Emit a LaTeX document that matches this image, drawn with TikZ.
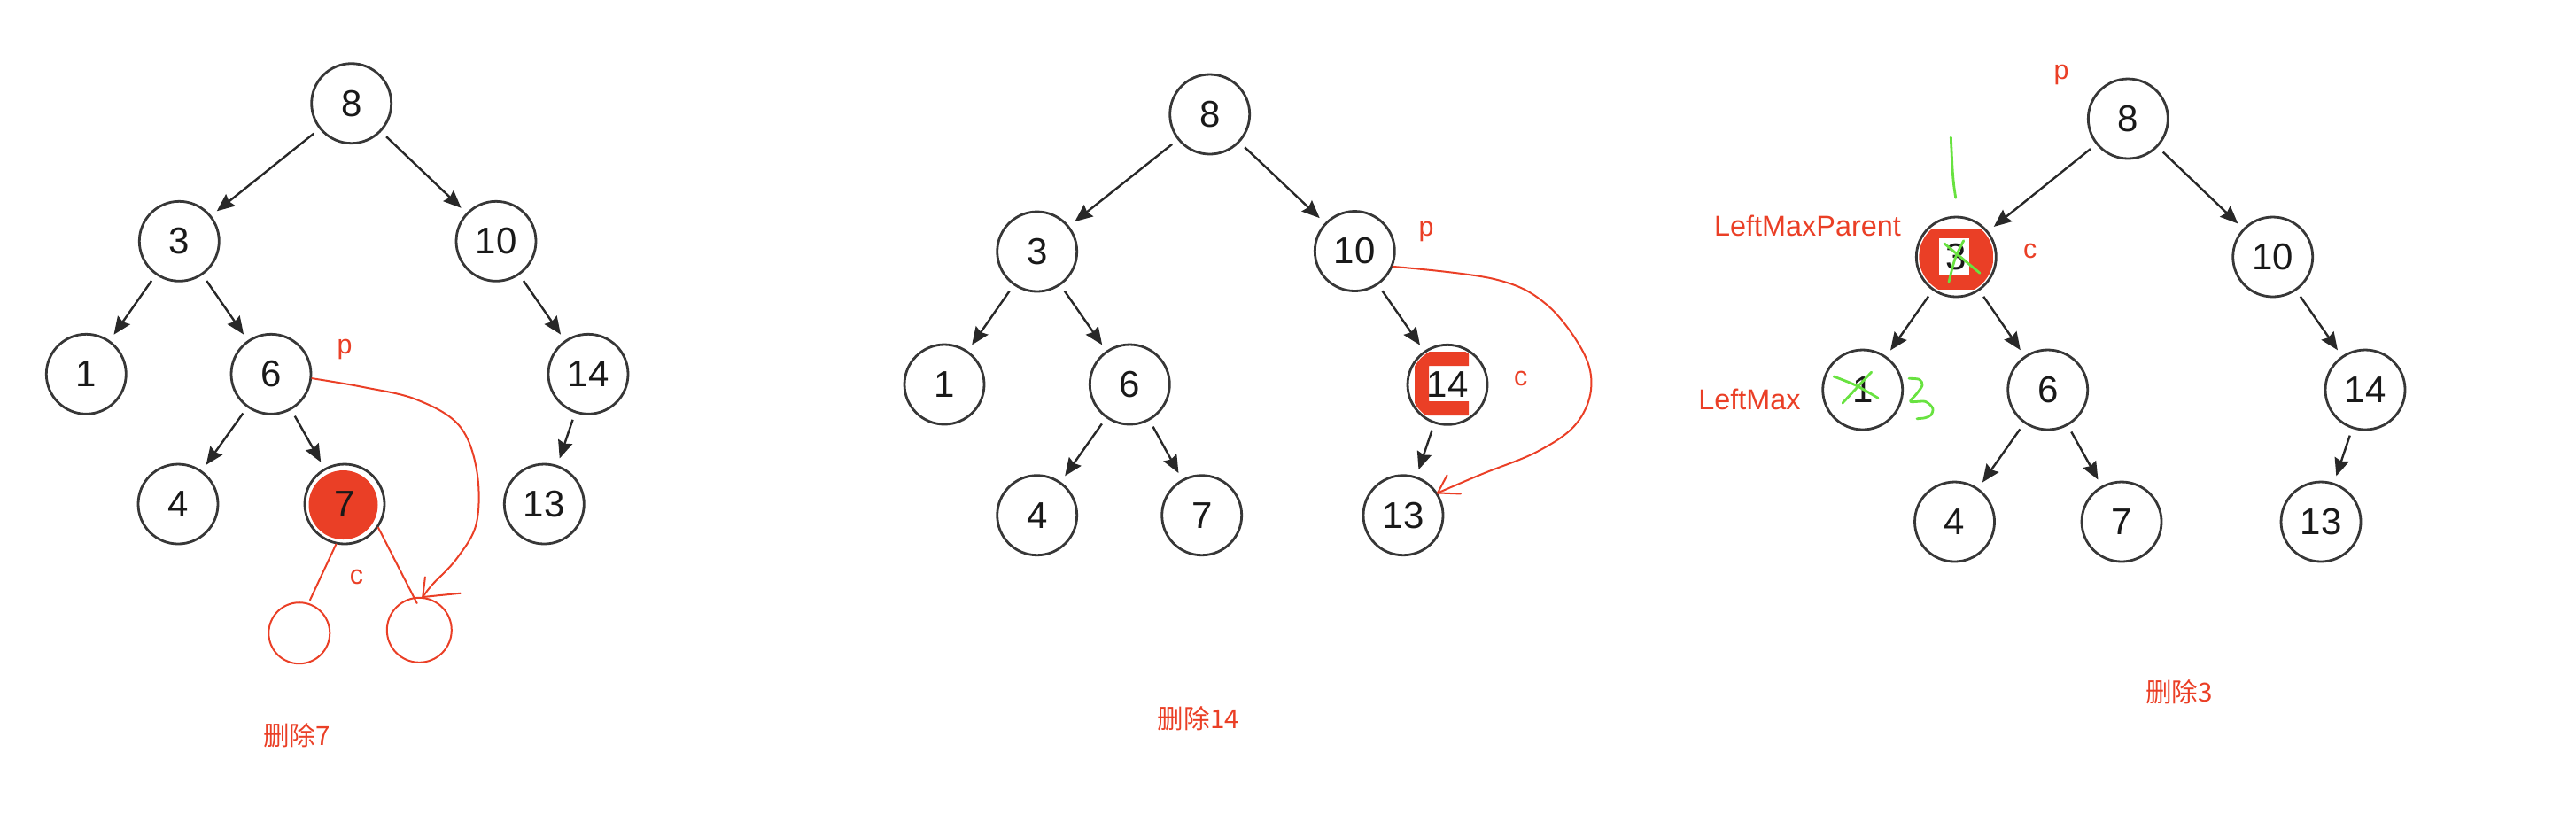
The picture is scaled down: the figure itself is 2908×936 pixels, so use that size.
\documentclass[tikz,border=0pt]{standalone}
\usepackage{fontspec}
\setmainfont{Liberation Sans}
\newfontfamily\cjkfont{Noto Sans CJK SC}
\usetikzlibrary{arrows.meta}
\definecolor{annred}{RGB}{234,63,38}
\definecolor{anngreen}{RGB}{104,226,64}
\definecolor{ndraw}{RGB}{55,55,55}
\definecolor{edgec}{RGB}{40,40,40}
\definecolor{ntext}{RGB}{25,25,25}
\begin{document}
\begin{tikzpicture}[x=0.25pt,y=-0.25pt,
  tnode/.style={circle,draw=ndraw,line width=0.7pt,minimum size=22.5pt,inner sep=0pt,text=ntext,font=\fontsize{10.5}{12}\selectfont},
  tedge/.style={draw=edgec,line width=0.6pt,-{Stealth[length=5pt,width=4.2pt,inset=0.6pt]},shorten <=2pt,shorten >=2pt},
  redline/.style={draw=annred,line width=0.5pt,line cap=round},
  redcirc/.style={circle,draw=annred,line width=0.5pt,inner sep=0pt},
  lbl/.style={text=annred,inner sep=0pt,font=\fontsize{7.6}{9}\selectfont},
  namelbl/.style={text=annred,inner sep=0pt,font=\fontsize{8.1}{10}\selectfont},
  capt/.style={text=annred,inner sep=0pt,font=\cjkfont\fontsize{7.4}{9}\selectfont},
  grn/.style={draw=anngreen,line width=0.7pt,line cap=round,line join=round}]
\useasboundingbox (0,0) rectangle (2908,936);

% ---------- red marks under the digits ----------
\fill[annred] (387.5,570) circle[radius=9.75pt];
\begin{scope}
  \clip (1634,434.3) circle[radius=10.6pt];
  \draw[annred,line width=4pt,rounded corners=2pt] (1658,405) -- (1605,405) -- (1605,461) -- (1658,461);
\end{scope}
\begin{scope}
  \clip (2208.3,290) circle[radius=10.5pt];
  \fill[annred] (2166,258) rectangle (2250,327);
\end{scope}
\fill[white] (2189,269) rectangle (2223,310);

% ---------- tree 1 ----------
\node[tnode] (a8)  at (396.7,116.7) {8};
\node[tnode] (a3)  at (202.3,272.3) {3};
\node[tnode] (a10) at (560,272.3) {10};
\node[tnode] (a1)  at (97.3,422.3) {1};
\node[tnode] (a6)  at (306,422.3) {6};
\node[tnode] (a14) at (664,422.3) {14};
\node[tnode] (a4)  at (201,569) {4};
\node[tnode] (a7)  at (389,569) {7};
\node[tnode] (a13) at (614.3,569) {13};

% ---------- tree 2 ----------
\node[tnode] (b8)  at (1365.7,129) {8};
\node[tnode] (b3)  at (1170.7,284) {3};
\node[tnode] (b10) at (1529.3,283.5) {10};
\node[tnode] (b1)  at (1066,434) {1};
\node[tnode] (b6)  at (1275.3,434) {6};
\node[tnode] (b14) at (1634,434.3) {14};
\node[tnode] (b4)  at (1170.7,581.7) {4};
\node[tnode] (b7)  at (1356.7,581.7) {7};
\node[tnode] (b13) at (1584,581.7) {13};

% ---------- tree 3 ----------
\node[tnode] (c8)  at (2402.3,134) {8};
\node[tnode] (c3)  at (2208.3,290) {3};
\node[tnode] (c10) at (2565.7,290) {10};
\node[tnode] (c1)  at (2102.7,440) {1};
\node[tnode] (c6)  at (2311.7,440) {6};
\node[tnode] (c14) at (2670,440) {14};
\node[tnode] (c4)  at (2206.5,589) {4};
\node[tnode] (c7)  at (2395,589) {7};
\node[tnode] (c13) at (2620,589) {13};

\foreach \t in {a,b,c}{
  \draw[tedge] (\t8) -- (\t3);
  \draw[tedge] (\t8) -- (\t10);
  \draw[tedge] (\t3) -- (\t1);
  \draw[tedge] (\t3) -- (\t6);
  \draw[tedge] (\t10) -- (\t14);
  \draw[tedge] (\t6) -- (\t4);
  \draw[tedge] (\t6) -- (\t7);
  \draw[tedge] (\t14) -- (\t13);
}

% ---------- tree 1 annotations ----------
\node[redcirc,minimum size=17.25pt] (lc) at (337.8,714.7) {};
\node[redcirc,minimum size=18.25pt] (rc) at (473.3,711.3) {};
\coordinate (lce) at (350,677.3);
\coordinate (rce) at (470.7,681);
\draw[redline] (a7.-102) -- (lce);
\draw[redline] (a7.-35) -- (rce);
\draw[redline] plot[smooth,tension=0.6] coordinates {(a6.-6) (410,437) (470,451) (518,480) (538,530) (538,590) (516,630) (488,660) (rc.84)};
\draw[redline] (rc.84) -- ++(42.7,-4.3);
\draw[redline] (rc.84) -- ++(2.7,-22.6);
\node[lbl] (pa) at (389,394) {p};
\node[lbl] (ca) at (402.5,651.7) {c};
\node[capt] (capa) at (335,830.5) {删除7};

% ---------- tree 2 annotations ----------
\draw[redline] plot[smooth,tension=0.6] coordinates {(b10.-22) (1686.7,315) (1745,343) (1787,397) (1796,440) (1778,480) (1735,510) (1673.3,535) (b13.33)};
\draw[redline] (b13.33) -- ++(10.7,-20);
\draw[redline] (b13.33) -- ++(26,1);
\node[lbl] (pb) at (1610,261) {p};
\node[lbl] (cb) at (1716.7,427.5) {c};
\node[capt] (capb) at (1353,811) {删除14};

% ---------- tree 3 annotations ----------
\node[lbl] (pc) at (2327,84) {p};
\node[lbl] (cc) at (2291.8,283) {c};
\node[namelbl] (lmp) at (2040.5,255) {LeftMaxParent};
\node[namelbl] (lm) at (1975,450.5) {LeftMax};
\node[capt] (capc) at (2460,781) {删除3};
\draw[grn] plot[smooth] coordinates {(2202.3,155) (2204,190) (2205.5,208) (2207.7,223.3)};
\draw[grn] (2195,275) -- (2235,308.3);
\draw[grn] plot[smooth] coordinates {(2216.7,271.7) (2207,292) (2200,318.3)};
\draw[grn] plot[smooth] coordinates {(2070,425) (2095,435) (2120,449.3)};
\draw[grn] (2112.7,420) -- (2080,455);
\draw[grn] plot[smooth,tension=0.5] coordinates {(2155,427.3) (2166.7,428.3) (2170,435) (2163.3,445) (2156.7,453.3) (2173.3,453.3) (2181.7,460.7) (2180,468.3) (2173.3,471.7) (2164,472.7)};
\end{tikzpicture}
\end{document}
